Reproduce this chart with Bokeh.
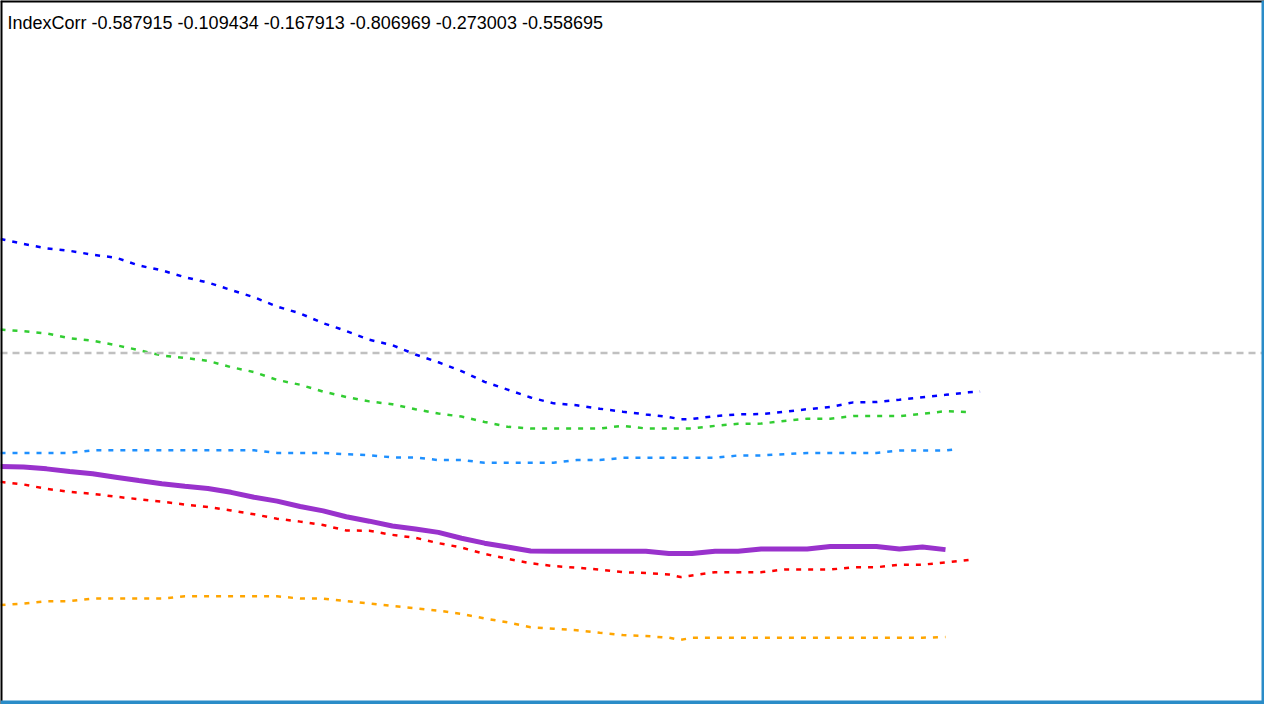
from bokeh.plotting import figure
from bokeh.models import Range1d, Span, Label
from bokeh.embed import file_html
from bokeh.resources import INLINE

# ---- data (bar index, correlation value) ----
title_name = "IndexCorr"
last_values = [-0.587915, -0.109434, -0.167913, -0.806969, -0.273003, -0.558695]

red_x = [0, 2, 4, 6, 8, 10, 12, 14, 16, 18, 20, 22, 24, 26, 28, 30, 32, 34, 36, 38, 40, 42,
         44, 46, 48, 50, 52, 54, 56, 58, 59, 60, 62, 64, 66, 68, 70, 72, 74, 76, 78, 80, 82, 84]
red_y = [-0.3660, -0.3735, -0.3860, -0.3944, -0.3999, -0.4083, -0.4152, -0.4222, -0.4305, -0.4375,
         -0.4472, -0.4583, -0.4708, -0.4791, -0.4889, -0.5042, -0.5050, -0.5167, -0.5250, -0.5403,
         -0.5528, -0.5709, -0.5848, -0.5973, -0.6056, -0.6098, -0.6153, -0.6228, -0.6251, -0.6292,
         -0.6367, -0.6320, -0.6228, -0.6228, -0.6228, -0.6153, -0.6153, -0.6153, -0.6089, -0.6089,
         -0.6014, -0.6014, -0.5950, -0.5879]

blue_x = [0, 2, 4, 6, 8, 10, 12, 14, 16, 18, 20, 22, 24, 26, 28, 30, 32, 34, 36, 38, 40, 42,
          44, 46, 48, 50, 52, 54, 56, 58, 59, 60, 62, 64, 66, 68, 70, 72, 74, 76, 78, 80, 82, 84, 85]
blue_y = [0.3241, 0.3102, 0.2977, 0.2907, 0.2796, 0.2713, 0.2490, 0.2351, 0.2157, 0.2004,
          0.1795, 0.1587, 0.1323, 0.1128, 0.0850, 0.0628, 0.0378, 0.0225, -0.0039, -0.0261,
          -0.0511, -0.0817, -0.1039, -0.1262, -0.1429, -0.1484, -0.1581, -0.1665, -0.1743, -0.1818,
          -0.1882, -0.1873, -0.1790, -0.1743, -0.1734, -0.1670, -0.1595, -0.1531, -0.1401, -0.1392,
          -0.1326, -0.1253, -0.1187, -0.1115, -0.1094]

green_x = [0, 2, 4, 6, 8, 10, 12, 14, 16, 18, 20, 22, 24, 26, 28, 30, 32, 34, 36, 38, 40, 42,
           44, 46, 48, 50, 52, 54, 56, 58, 60, 62, 64, 66, 68, 70, 72, 74, 76, 78, 80, 82, 84]
green_y = [0.0670, 0.0620, 0.0559, 0.0420, 0.0350, 0.0225, 0.0086, -0.0067, -0.0136, -0.0220,
           -0.0400, -0.0539, -0.0762, -0.0900, -0.1095, -0.1248, -0.1373, -0.1456, -0.1595, -0.1720,
           -0.1804, -0.1957, -0.2096, -0.2143, -0.2143, -0.2143, -0.2143, -0.2068, -0.2143, -0.2143,
           -0.2143, -0.2068, -0.2012, -0.2004, -0.1929, -0.1865, -0.1865, -0.1790, -0.1790, -0.1790,
           -0.1726, -0.1651, -0.1679]

orange_x = [0, 2, 4, 6, 8, 10, 12, 14, 16, 18, 20, 22, 24, 26, 28, 30, 32, 34, 36, 38, 40, 42,
            44, 46, 48, 50, 52, 54, 56, 58, 59, 60, 62, 64, 66, 68, 70, 72, 74, 76, 78, 80, 82]
orange_y = [-0.7162, -0.7118, -0.7051, -0.7051, -0.6979, -0.6979, -0.6979, -0.6979, -0.6912, -0.6912,
            -0.6912, -0.6912, -0.6912, -0.6979, -0.6979, -0.7051, -0.7118, -0.7190, -0.7257, -0.7321,
            -0.7412, -0.7543, -0.7654, -0.7793, -0.7835, -0.7877, -0.7952, -0.8016, -0.8043, -0.8091,
            -0.8155, -0.8091, -0.8091, -0.8091, -0.8091, -0.8091, -0.8091, -0.8091, -0.8091, -0.8091,
            -0.8091, -0.8091, -0.8070]

dodger_x = [0, 2, 4, 6, 8, 10, 12, 14, 16, 18, 20, 22, 24, 26, 28, 30, 32, 34, 36, 38, 40, 42,
            44, 46, 48, 50, 52, 54, 56, 58, 60, 62, 64, 66, 68, 70, 72, 74, 76, 78, 80, 82, 83]
dodger_y = [-0.2838, -0.2838, -0.2838, -0.2838, -0.2763, -0.2763, -0.2763, -0.2763, -0.2763, -0.2763,
            -0.2763, -0.2763, -0.2838, -0.2838, -0.2838, -0.2874, -0.2902, -0.2966, -0.2966, -0.3041,
            -0.3041, -0.3116, -0.3116, -0.3116, -0.3116, -0.3041, -0.3041, -0.2977, -0.2977, -0.2977,
            -0.2977, -0.2977, -0.2910, -0.2910, -0.2874, -0.2838, -0.2838, -0.2838, -0.2838, -0.2771,
            -0.2771, -0.2771, -0.2730]

purple_x = [0, 2, 4, 6, 8, 10, 12, 14, 16, 18, 20, 22, 24, 26, 28, 30, 32, 34, 36, 38, 40, 42,
            44, 46, 48, 50, 52, 54, 56, 58, 60, 62, 64, 66, 68, 70, 72, 74, 76, 78, 80, 82]
purple_y = [-0.3227, -0.3235, -0.3291, -0.3366, -0.3430, -0.3527, -0.3624, -0.3716, -0.3783, -0.3847,
            -0.3958, -0.4097, -0.4208, -0.4361, -0.4486, -0.4653, -0.4778, -0.4917, -0.5000, -0.5097,
            -0.5264, -0.5403, -0.5514, -0.5625, -0.5634, -0.5634, -0.5634, -0.5634, -0.5634, -0.5700,
            -0.5700, -0.5634, -0.5634, -0.5570, -0.5570, -0.5570, -0.5495, -0.5495, -0.5495, -0.5570,
            -0.5514, -0.5587]

zero_level = 0.0

# ---- figure ----
X0, X1 = 0.0, 109.68
Y0, Y1 = -0.9989, 1.0022

p = figure(width=1264, height=704, output_backend="svg", toolbar_location=None,
           x_range=Range1d(X0, X1), y_range=Range1d(Y0, Y1),
           x_axis_location=None, y_axis_location=None, min_border=0)
p.grid.visible = False
p.outline_line_color = None
p.background_fill_color = "white"
p.border_fill_color = "white"

p.add_layout(Span(location=zero_level, dimension="width", line_color="#c0c0c0",
                  line_width=2.5, line_dash="7 5"))

dot = "5 7"
p.line(red_x, red_y, line_color="#FF0000", line_width=2.5, line_dash=dot)
p.line(blue_x, blue_y, line_color="#0000FF", line_width=2.5, line_dash=dot)
p.line(green_x, green_y, line_color="#32CD32", line_width=2.5, line_dash=dot)
p.line(orange_x, orange_y, line_color="#FFA500", line_width=2.5, line_dash=dot)
p.line(dodger_x, dodger_y, line_color="#1E90FF", line_width=2.5, line_dash=dot)
p.line(purple_x, purple_y, line_color="#9932CC", line_width=5)

# window borders
p.add_layout(Span(location=X0, dimension="height", line_color="black", line_width=4))
p.add_layout(Span(location=Y1, dimension="width", line_color="black", line_width=4))
p.add_layout(Span(location=X1, dimension="height", line_color="#2A8CC8", line_width=6))
p.add_layout(Span(location=Y0, dimension="width", line_color="#2A8CC8", line_width=8))

title_text = title_name + " " + " ".join(f"{v:.6f}" for v in last_values)
p.add_layout(Label(x=7, y=682, x_units="screen", y_units="screen", text=title_text,
                   text_font="Liberation Sans", text_font_size="18px",
                   text_color="black", text_baseline="alphabetic"))

open("out.html", "w").write(file_html(p, INLINE))
